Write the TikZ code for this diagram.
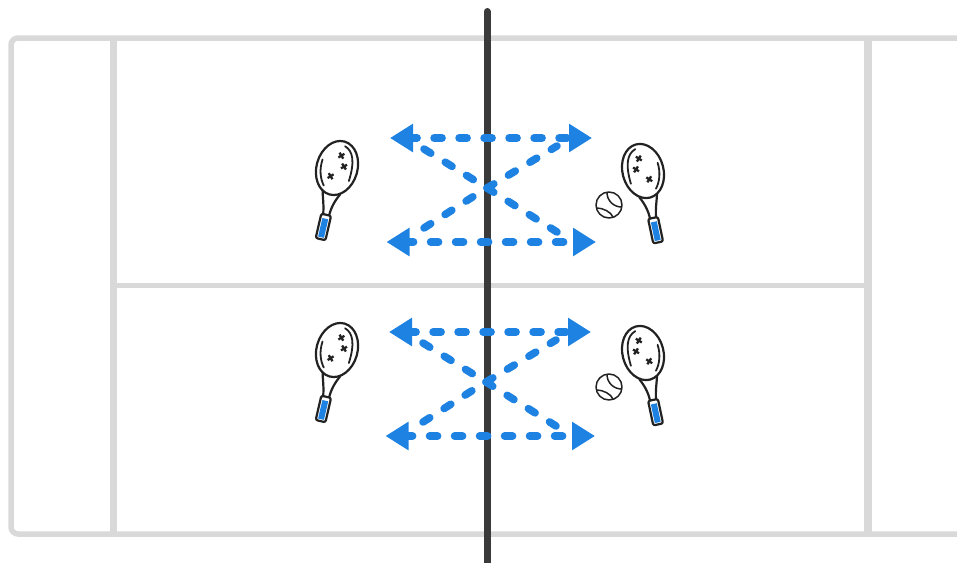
\documentclass[tikz,border=0pt]{standalone}
\usetikzlibrary{arrows.meta}
\definecolor{courtGrey}{RGB}{217,217,217}
\definecolor{netDark}{RGB}{58,58,58}
\definecolor{drillBlue}{RGB}{30,130,226}
\definecolor{inkDark}{RGB}{34,34,34}
\tikzset{
    ink line/.style={draw=inkDark, line width=2.2pt, line cap=round, line join=round},
    cross mark/.style={draw=inkDark, line width=2.3pt},
    drill line/.style={draw=drillBlue, line width=7.6pt, line cap=round, dash pattern=on 8pt off 17pt},
    drill arrow/.style={drill line, dash phase=2.5pt, {Triangle[length=23pt,width=27pt,fill=drillBlue]}-{Triangle[length=23pt,width=27pt,fill=drillBlue]}},
    racket/.pic={
        \draw[ink line, rotate=-3] (0,0) ellipse (20.5 and 27.5);
        \draw[ink line, line width=1.8pt] (-16,-5) .. controls (-17,5) and (-14,14) .. (-9,20);
        \draw[ink line, line width=1.8pt] (3,-23) .. controls (12,-20) and (16,-10) .. (14.5,10);
        \draw[ink line] (-9,25) .. controls (-7,33) and (-4,40) .. (-3,49);
        \draw[ink line] (9,25) .. controls (5,33) and (3,40) .. (3,49);
        \draw[ink line, fill=white, rounded corners=2pt] (-5,48) rectangle (5,73);
        \fill[drillBlue] (-3,52) rectangle (3,71);
        \draw[cross mark] (-1,-15.5) -- ++(5,5) (4,-15.5) -- ++(-5,5);
        \draw[cross mark] (4,-5.5) -- ++(5,5) (9,-5.5) -- ++(-5,5);
        \draw[cross mark] (-6.9,6.9) -- ++(5,5) (-1.9,6.9) -- ++(-5,5);
    },
    ball/.pic={
        \draw[ink line, line width=1.5pt, fill=white] (0,0) circle (13);
        \draw[ink line, line width=1.5pt] (-2,-12.5) .. controls (-2,-4) and (5,2) .. (12.5,2);
        \draw[ink line, line width=1.5pt] (-12,3) .. controls (-6,3) and (2,7) .. (4,12);
    },
    drill/.pic={
        \coordinate (tl) at (-97,-50);
        \coordinate (tr) at (105,-50);
        \coordinate (bl) at (-100.5,54);
        \coordinate (br) at (109,54);
        \coordinate (c) at (0,0);
        \coordinate (dtl) at (-63,-39);
        \coordinate (dbl) at (-63,40);
        \coordinate (dtr) at (70,-42);
        \coordinate (dbr) at (70,44);
        \coordinate (ctl) at (-9,-5.5);
        \coordinate (cbl) at (-9,5.5);
        \draw[drill arrow] (tl) -- (tr);
        \draw[drill arrow] (bl) -- (br);
        \draw[drill line] (dtl) -- (ctl);
        \draw[drill line] (dbl) -- (cbl);
        \draw[drill line] (c) -- (dtr);
        \draw[drill line] (c) -- (dbr);
    }
}
\begin{document}
\begin{tikzpicture}[x=1pt, y=-1pt]
  \useasboundingbox (0,0) rectangle (957,562);
  \clip (0,0) rectangle (957,562);

  \draw[courtGrey, line width=5.5pt, rounded corners=7pt] (970,38) -- (11,38) -- (11,534) -- (970,534);
  \draw[courtGrey, line width=7pt] (113.5,38) -- (113.5,534);
  \draw[courtGrey, line width=8pt] (867.5,38) -- (867.5,534);
  \draw[courtGrey, line width=5.5pt] (113,285.5) -- (867,285.5);

  \draw[netDark, line width=7pt, line cap=round] (487,11.5) -- (487,575);

  \pic at (487,188) {drill};
  \pic at (486,382) {drill};

  \pic[rotate=-13] at (337,168) {racket};
  \pic[rotate=-13] at (337,350) {racket};
  \pic[rotate=12, xscale=-1] at (643,171) {racket};
  \pic[rotate=12, xscale=-1] at (643,353) {racket};

  \pic at (609,205) {ball};
  \pic at (609,387) {ball};
\end{tikzpicture}
\end{document}
